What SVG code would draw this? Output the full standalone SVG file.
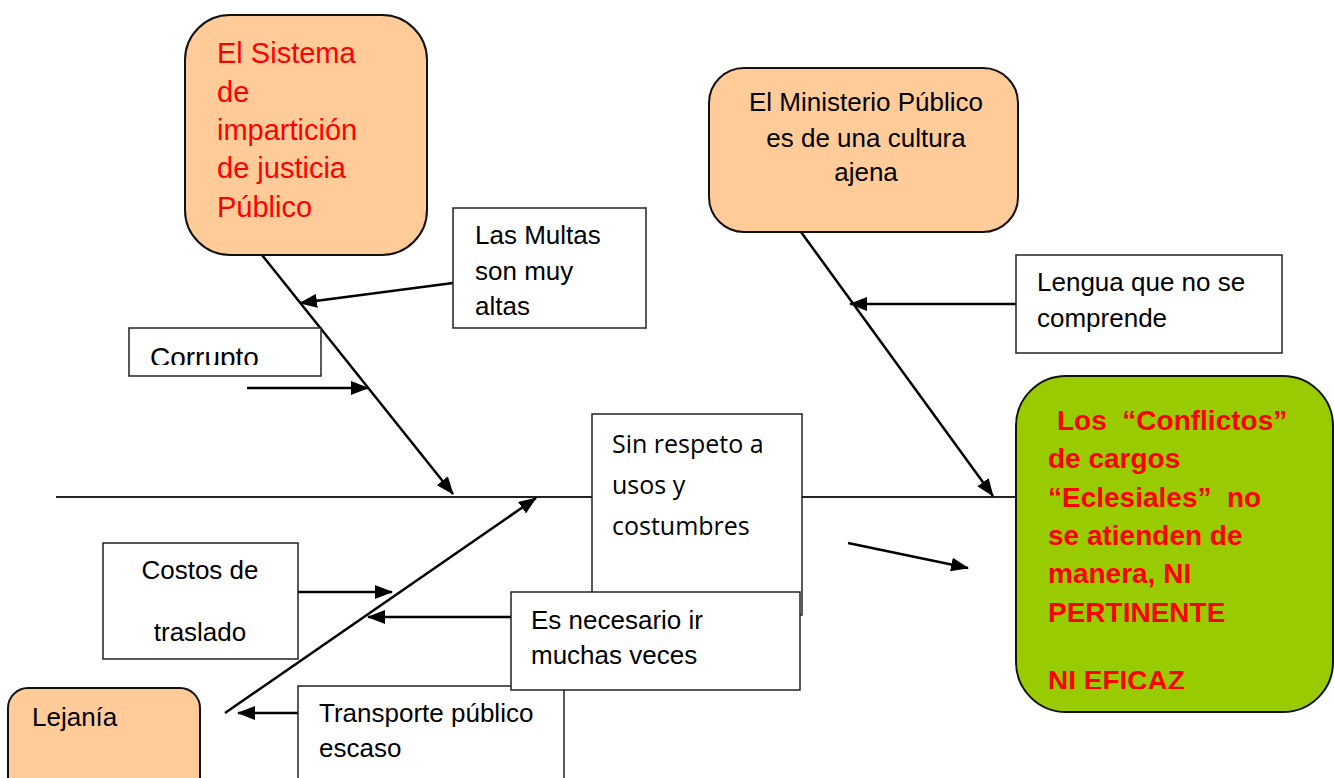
<svg xmlns="http://www.w3.org/2000/svg" width="1334" height="778" viewBox="0 0 1334 778">
<style>
.peach{fill:#FFCC99;stroke:#111;stroke-width:2}
.box{fill:#fff;stroke:#222;stroke-width:1.5}
.t{font-family:"Liberation Sans",Arial,sans-serif;font-size:26px;fill:#000}
.red{font-family:"Liberation Sans",Arial,sans-serif;font-size:29px;fill:#FF0000}
.redb{font-family:"Liberation Sans",Arial,sans-serif;font-size:28px;font-weight:bold;fill:#FF0000}
.os{font-family:"Open Sans","Liberation Sans",sans-serif;font-size:25px;fill:#000}
.arr{stroke:#000;stroke-width:2.5;fill:none;marker-end:url(#ah)}
</style>
<defs>
<marker id="ah" markerUnits="userSpaceOnUse" markerWidth="18" markerHeight="14" refX="17" refY="7" orient="auto">
<path d="M0,0 L18,7 L0,14 z" fill="#000"/>
</marker>
<clipPath id="clipCorr"><rect x="129" y="328" width="192" height="37"/></clipPath>
<clipPath id="clipGreen"><rect x="1016" y="376" width="318" height="313"/></clipPath>
</defs>
<rect x="0" y="0" width="1334" height="778" fill="#fff"/>

<g id="connectors">
<line x1="56" y1="497" x2="1016" y2="497" stroke="#222" stroke-width="2"/>
<line class="arr" x1="262" y1="255" x2="453" y2="494"/>
<line class="arr" x1="801" y1="232" x2="993" y2="496"/>
<line class="arr" x1="225" y1="713" x2="536" y2="498"/>
<line class="arr" x1="453" y1="283" x2="300" y2="303"/>
<line class="arr" x1="247" y1="388" x2="368" y2="388"/>
<line class="arr" x1="1016" y1="304" x2="850" y2="304"/>
<line class="arr" x1="296" y1="592" x2="392" y2="592"/>
<line class="arr" x1="511" y1="617" x2="368" y2="617"/>
<line class="arr" x1="309" y1="713" x2="238" y2="713"/>
<line class="arr" x1="848" y1="543" x2="968" y2="568"/>
</g>

<g id="sistema">
<rect class="peach" x="185" y="15" width="242" height="240" rx="45"/>
<text class="red" x="217" y="63">El Sistema</text>
<text class="red" x="217" y="102">de</text>
<text class="red" x="217" y="140">impartición</text>
<text class="red" x="217" y="178">de justicia</text>
<text class="red" x="217" y="217">Público</text>
</g>

<g id="multas">
<rect class="box" x="453" y="208" width="193" height="120"/>
<text class="t" x="475" y="244">Las Multas</text>
<text class="t" x="475" y="280">son muy</text>
<text class="t" x="475" y="315">altas</text>
</g>

<g id="corrupto">
<rect class="box" x="129" y="328" width="192" height="48"/>
<text class="t" x="150" y="367" style="font-size:28px" clip-path="url(#clipCorr)">Corrupto</text>
</g>

<g id="ministerio">
<rect class="peach" x="709" y="68" width="309" height="164" rx="35"/>
<text class="t" x="866" y="111" text-anchor="middle">El Ministerio Público</text>
<text class="t" x="866" y="147" text-anchor="middle">es de una cultura</text>
<text class="t" x="866" y="181" text-anchor="middle">ajena</text>
</g>

<g id="lengua">
<rect class="box" x="1016" y="255" width="266" height="98"/>
<text class="t" x="1037" y="291">Lengua que no se</text>
<text class="t" x="1037" y="327">comprende</text>
</g>

<g id="efecto">
<rect x="1016" y="376" width="317" height="336" rx="50" fill="#99CC00" stroke="#111" stroke-width="2"/>
<g clip-path="url(#clipGreen)">
<text class="redb" x="1057" y="430" xml:space="preserve">Los  “Conflictos”</text>
<text class="redb" x="1048" y="468">de cargos</text>
<text class="redb" x="1048" y="507" xml:space="preserve">“Eclesiales”  no</text>
<text class="redb" x="1048" y="545">se atienden de</text>
<text class="redb" x="1048" y="583">manera, NI</text>
<text class="redb" x="1048" y="622">PERTINENTE</text>
<text class="redb" x="1048" y="690">NI EFICAZ</text>
</g>
</g>

<g id="sinrespeto">
<rect class="box" x="592" y="414" width="210" height="201"/>
<text class="os" x="612" y="453">Sin respeto a</text>
<text class="os" x="612" y="494">usos y</text>
<text class="os" x="612" y="535">costumbres</text>
</g>

<g id="costos">
<rect class="box" x="103" y="543" width="195" height="116"/>
<text class="t" x="200" y="579" text-anchor="middle">Costos de</text>
<text class="t" x="200" y="641" text-anchor="middle">traslado</text>
</g>

<g id="transporte">
<rect class="box" x="298" y="686" width="266" height="120"/>
<text class="t" x="319" y="722">Transporte público</text>
<text class="t" x="319" y="757">escaso</text>
</g>

<g id="necesario">
<rect class="box" x="511" y="592" width="289" height="98"/>
<text class="t" x="531" y="629">Es necesario ir</text>
<text class="t" x="531" y="664">muchas veces</text>
</g>

<g id="lejania">
<rect class="peach" x="8" y="688" width="192" height="120" rx="20"/>
<text class="t" x="32" y="726">Lejanía</text>
</g>
</svg>
